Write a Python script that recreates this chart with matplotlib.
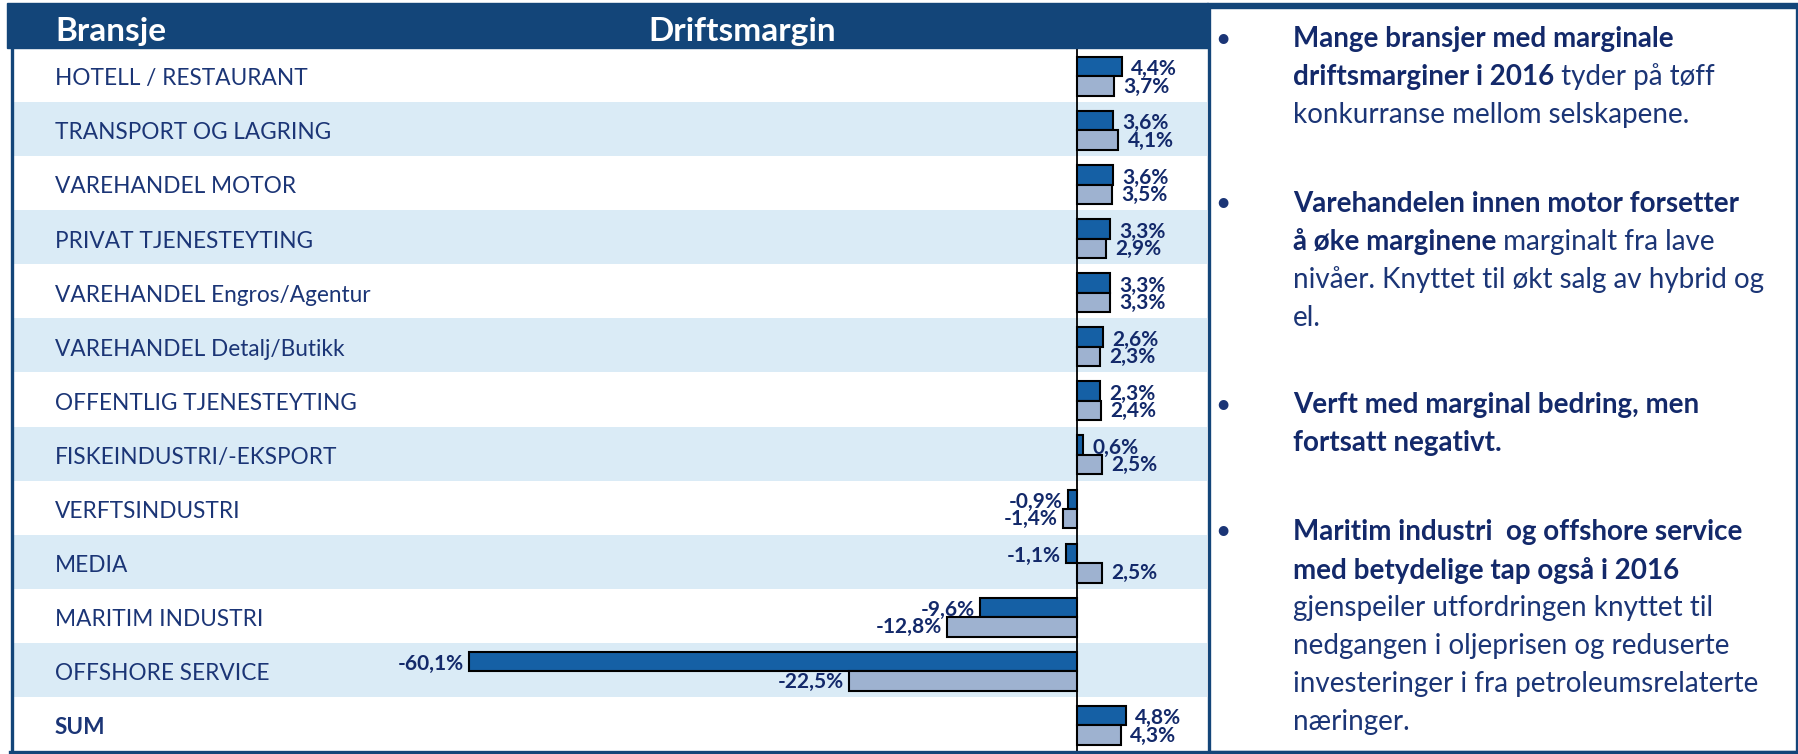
import matplotlib

matplotlib.use('Agg')
import matplotlib.pyplot as plt
from matplotlib.patches import Rectangle
from matplotlib.transforms import blended_transform_factory

plt.rcParams['font.family'] = ['Lato', 'DejaVu Sans']

W, H = 1798, 754

categories = ["HOTELL / RESTAURANT", "TRANSPORT OG LAGRING", "VAREHANDEL MOTOR",
              "PRIVAT TJENESTEYTING", "VAREHANDEL Engros/Agentur", "VAREHANDEL Detalj/Butikk",
              "OFFENTLIG TJENESTEYTING", "FISKEINDUSTRI/-EKSPORT", "VERFTSINDUSTRI", "MEDIA",
              "MARITIM INDUSTRI", "OFFSHORE SERVICE", "SUM"]
margin_2016 = [4.4, 3.6, 3.6, 3.3, 3.3, 2.6, 2.3, 0.6, -0.9, -1.1, -9.6, -60.1, 4.8]
margin_2015 = [3.7, 4.1, 3.5, 2.9, 3.3, 2.3, 2.4, 2.5, -1.4, 2.5, -12.8, -22.5, 4.3]

# kommentarer til høyre: (tekst, fet)
bullets = [
    [[("Mange bransjer med marginale", True)],
     [("driftsmarginer i 2016", True), (" tyder på tøff", False)],
     [("konkurranse mellom selskapene.", False)]],
    [[("Varehandelen innen motor forsetter", True)],
     [("å øke marginene", True), (" marginalt fra lave", False)],
     [("nivåer. Knyttet til økt salg av hybrid og", False)],
     [("el.", False)]],
    [[("Verft med marginal bedring, men", True)],
     [("fortsatt negativt.", True)]],
    [[("Maritim industri  og offshore service", True)],
     [("med betydelige tap også i 2016", True)],
     [("gjenspeiler utfordringen knyttet til", False)],
     [("nedgangen i oljeprisen og reduserte", False)],
     [("investeringer i fra petroleumsrelaterte", False)],
     [("næringer.", False)]],
]
bullet_top = [39, 204, 405, 532]

HEADER = "#134579"
BAND = "#DAEBF6"
DARK_BAR = "#1560A5"
LIGHT_BAR = "#9EB2D0"
NAVY = "#1B3576"
NAVY_BOLD = "#13296A"


def fx(x):
    return x / W


def fy(y):
    return 1 - y / H


fig = plt.figure(figsize=(W / 100, H / 100), dpi=100)
fig.patch.set_facecolor("white")

# hoveddiagram
left, right, top, bottom = 13, 1207, 48, 751
ax = fig.add_axes([fx(left), fy(bottom), (right - left) / W, (bottom - top) / H])
zero_px = 1077
px_per = 10.12
ax.set_xlim((left - zero_px) / px_per, (right - zero_px) / px_per)
n = len(categories)
ax.set_ylim(n, 0)
ax.axis('off')

for i in range(n):
    if i % 2 == 1:
        ax.axhspan(i, i + 1, color=BAND, lw=0, zorder=0)

lab_tr = blended_transform_factory(ax.transAxes, ax.transData)
for i, cat in enumerate(categories):
    ax.text((55 - left) / (right - left), i + 0.57, cat, transform=lab_tr,
            va='center', ha='left', fontsize=16.3, color=NAVY,
            weight='bold' if cat == "SUM" else 'normal')

h = 0.36
y_dark = [i + 0.345 for i in range(n)]
y_light = [i + 0.705 for i in range(n)]
ax.barh(y_dark, margin_2016, height=h, color=DARK_BAR, edgecolor='black', lw=1.5, zorder=2)
ax.barh(y_light, margin_2015, height=h, color=LIGHT_BAR, edgecolor='black', lw=1.5, zorder=2)
ax.axvline(0, color='black', lw=1.3, zorder=3)


def pct(v):
    return f"{v:.1f}".replace('.', ',') + '%'


for ys, vals, dy in ((y_dark, margin_2016, 0.05), (y_light, margin_2015, 0.01)):
    for y, v in zip(ys, vals):
        if v >= 0:
            ax.text(v + 0.9, y + dy, pct(v), ha='left', va='center', fontsize=15,
                    weight='bold', color=NAVY_BOLD, zorder=4)
        else:
            ax.text(v - 0.5, y + dy, pct(v), ha='right', va='center', fontsize=15,
                    weight='bold', color=NAVY_BOLD, zorder=4)

# topptekst
fig.patches.append(Rectangle((fx(7), fy(48)), (1208 - 7) / W, 45 / H,
                             transform=fig.transFigure, color=HEADER, zorder=1))
fig.text(fx(55), fy(31), "Bransje", color='white', weight='bold', fontsize=24,
         va='center', ha='left')
fig.text(fx(742), fy(31), "Driftsmargin", color='white', weight='bold', fontsize=24,
         va='center', ha='center')

# rammer
fig.add_artist(plt.Line2D([fx(11.5), fx(11.5)], [fy(48), fy(752)], color=HEADER, lw=2.4))
fig.add_artist(plt.Line2D([fx(10), fx(1798)], [fy(751.5), fy(751.5)], color=HEADER, lw=2.4))
fig.patches.append(Rectangle((fx(1209), fy(751.5)), (1796.5 - 1209) / W, (751.5 - 5) / H,
                             transform=fig.transFigure, facecolor='white',
                             edgecolor=HEADER, lw=2.4, zorder=1))
fig.patches.append(Rectangle((fx(1207), fy(8)), (1798 - 1207) / W, 5 / H,
                             transform=fig.transFigure, color=HEADER, zorder=1))

# kommentarer
renderer = fig.canvas.get_renderer()
line_h = 38.0
for top_y, para in zip(bullet_top, bullets):
    fig.text(fx(1223), fy(top_y), "•", ha='center', va='center', fontsize=19, color=NAVY)
    for k, parts in enumerate(para):
        x = fx(1293)
        y = fy(top_y + k * line_h)
        for txt, bold in parts:
            t = fig.text(x, y, txt, ha='left', va='center', fontsize=20,
                         weight='bold' if bold else 'normal',
                         color=NAVY_BOLD if bold else NAVY)
            bb = t.get_window_extent(renderer)
            x = bb.x1 / W

fig.savefig("out.png", dpi=100)
